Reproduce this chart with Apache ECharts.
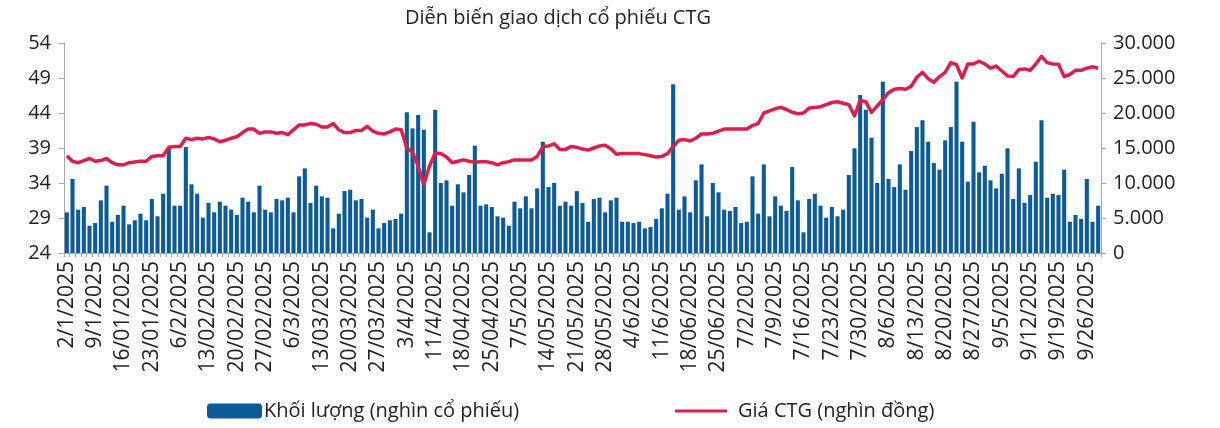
<!DOCTYPE html>
<html>
<head>
<meta charset="utf-8">
<script src="https://cdn.jsdelivr.net/npm/echarts@6/dist/echarts.min.js"></script>
<style>
  html, body { margin: 0; padding: 0; background: #fff; }
  #chart { width: 1220px; height: 428px; }
</style>
</head>
<body>
<div id="chart"></div>
<script>
// nhãn trục X (mỗi 5 phiên)
const tickLabels = ['2/1/2025','9/1/2025','16/01/2025','23/01/2025','6/2/2025','13/02/2025','20/02/2025','27/02/2025',
  '6/3/2025','13/03/2025','20/03/2025','27/03/2025','3/4/2025','11/4/2025','18/04/2025','25/04/2025','7/5/2025',
  '14/05/2025','21/05/2025','28/05/2025','4/6/2025','11/6/2025','18/06/2025','25/06/2025','7/2/2025','7/9/2025',
  '7/16/2025','7/23/2025','7/30/2025','8/6/2025','8/13/2025','8/20/2025','8/27/2025','9/5/2025','9/12/2025',
  '9/19/2025','9/26/2025'];

// khối lượng (nghìn cổ phiếu)
const volume = [
  5800,10570,6190,6570,3900,4280,7520,9620,4470,5430,6760,4090,4670,5620,4670,7710,5240,8470,14950,6760,6760,15140,9810,8470,5050,7140,5810,7330,6760,6190,
  5430,7900,7330,5810,9620,6190,5810,7710,7520,7900,5810,10950,12090,7140,9620,8090,7900,3520,5620,8850,9040,7520,7710,5050,6190,3520,4280,4670,4860,5620,20090,
  17800,19710,17610,2950,20470,10000,10380,6760,9810,8660,11140,15330,6760,6950,6570,5240,5050,3900,7330,6380,8090,6380,9230,15900,9420,10000,6760,7330,6760,8850,7140,
  4470,7710,7900,5810,7520,7900,4470,4470,4280,4470,3520,3710,4860,6380,8470,24090,6190,8090,5810,10380,12660,5240,10000,8660,6190,6000,6570,4280,4470,10950,5620,
  12660,5240,8090,6760,6000,12280,7520,2950,7710,8470,6760,5050,6570,5240,6190,11140,14950,22560,20470,16470,10000,24470,10570,9420,12660,9040,14570,17990,18950,15900,12850,
  11900,16090,17990,24470,15900,10190,18750,11520,12470,10380,9230,11330,14950,7710,12090,7140,8280,13040,18950,7900,8470,8280,11900,4470,5430,4860,10570,4470,6760
];

// giá CTG (nghìn đồng)
const price = [
  37.9,37.1,36.9,37.2,37.5,37.1,37.2,37.5,36.9,36.6,36.6,36.9,37.0,37.1,37.1,37.8,37.9,37.9,39.1,39.2,39.2,40.4,40.2,40.4,40.3,40.5,40.3,39.9,40.1,40.4,
  40.6,41.2,41.7,41.7,41.1,41.3,41.3,41.1,41.2,40.9,41.6,42.3,42.3,42.5,42.4,42.0,42.0,42.5,41.6,41.2,41.2,41.5,41.5,42.1,41.4,41.1,41.0,41.3,41.7,41.6,39.0,
  38.4,36.4,33.8,36.4,38.3,38.2,37.7,36.9,37.1,37.3,37.1,36.95,37.05,37.05,36.9,36.6,36.9,37.05,37.3,37.3,37.3,37.3,37.8,39.2,39.3,39.6,38.8,38.8,39.2,39.1,38.85,
  38.7,39.0,39.3,39.4,38.9,38.1,38.2,38.2,38.2,38.2,38.05,37.9,37.7,37.8,38.2,39.2,40.1,40.2,40.0,40.4,41.0,41.0,41.1,41.4,41.7,41.7,41.7,41.7,41.7,42.2,42.5,
  44.0,44.3,44.6,44.8,44.5,44.1,43.9,44.0,44.7,44.8,44.9,45.2,45.5,45.6,45.4,45.2,43.6,45.8,45.6,44.1,45.0,45.9,46.9,47.4,47.5,47.4,47.8,49.1,49.8,48.9,48.4,
  49.2,49.8,51.2,50.9,49.0,51.0,51.0,51.4,51.0,50.4,50.7,50.0,49.3,49.2,50.2,50.3,50.1,51.0,52.1,51.2,51.0,50.95,49.2,49.5,50.1,50.1,50.4,50.6,50.4
];

const priceTicks = [24, 29, 34, 39, 44, 49, 54];

// danh mục: nhãn ở mỗi phiên thứ 5
const categories = volume.map((v, i) => (i % 5 === 0 ? tickLabels[i / 5] : ''));

const FONT = '"Open Sans"';
const TXT = '#222';
const AXIS = '#a6a6a6';

const chart = echarts.init(document.getElementById('chart'));
const option = {
  animation: false,
  textStyle: { fontFamily: FONT },
  title: {
    text: 'Diễn biến giao dịch cổ phiếu CTG',
    left: 553, top: 3, textAlign: 'center',
    textStyle: { fontFamily: FONT, fontSize: 20, fontWeight: 'normal', color: TXT }
  },
  grid: { left: 64, right: 119, top: 43, bottom: 175 },
  legend: [
    {
      data: ['Khối lượng (nghìn cổ phiếu)'],
      left: 202, top: 396, itemWidth: 55, itemHeight: 15,
      textStyle: { fontFamily: FONT, fontSize: 20, color: TXT, padding: [0, 0, 0, -3] }
    },
    {
      data: [{ name: 'Giá CTG (nghìn đồng)', icon: 'rect' }],
      left: 670, top: 396, itemWidth: 52, itemHeight: 3,
      textStyle: { fontFamily: FONT, fontSize: 20, color: TXT, padding: [0, 0, 0, 6] }
    }
  ],
  xAxis: {
    type: 'category',
    data: categories,
    boundaryGap: true,
    axisLine: { lineStyle: { color: AXIS, width: 1 } },
    axisTick: { show: true, interval: 0, length: 4, lineStyle: { color: AXIS } },
    axisLabel: { interval: 4, rotate: 90, fontSize: 21, color: TXT, margin: 8, fontFamily: FONT }
  },
  yAxis: [
    {
      type: 'value', min: 24, max: 54, position: 'left',
      splitLine: { show: false },
      axisLine: { show: true, lineStyle: { color: AXIS } },
      axisTick: { show: true, length: 5, lineStyle: { color: AXIS }, customValues: priceTicks },
      axisLabel: { fontSize: 20, color: TXT, margin: 13, fontFamily: FONT, customValues: priceTicks }
    },
    {
      type: 'value', min: 0, max: 30000, interval: 5000, position: 'right',
      splitLine: { show: false },
      axisLine: { show: true, lineStyle: { color: AXIS } },
      axisTick: { show: true, length: 5, lineStyle: { color: AXIS } },
      axisLabel: {
        fontSize: 20, color: TXT, margin: 12, fontFamily: FONT,
        formatter: v => v === 0 ? '0' : (v / 1000).toFixed(0) + '.000'
      }
    }
  ],
  series: [
    {
      name: 'Khối lượng (nghìn cổ phiếu)',
      type: 'bar',
      yAxisIndex: 1,
      data: volume,
      barWidth: '72%',
      itemStyle: { color: '#0b5b98' }
    },
    {
      name: 'Giá CTG (nghìn đồng)',
      type: 'line',
      yAxisIndex: 0,
      data: price,
      symbol: 'none',
      smooth: false,
      lineStyle: { color: '#dc1f4b', width: 3.5, join: 'round' },
      itemStyle: { color: '#dc1f4b' }
    }
  ]
};
option && chart.setOption(option);
</script>
</body>
</html>
